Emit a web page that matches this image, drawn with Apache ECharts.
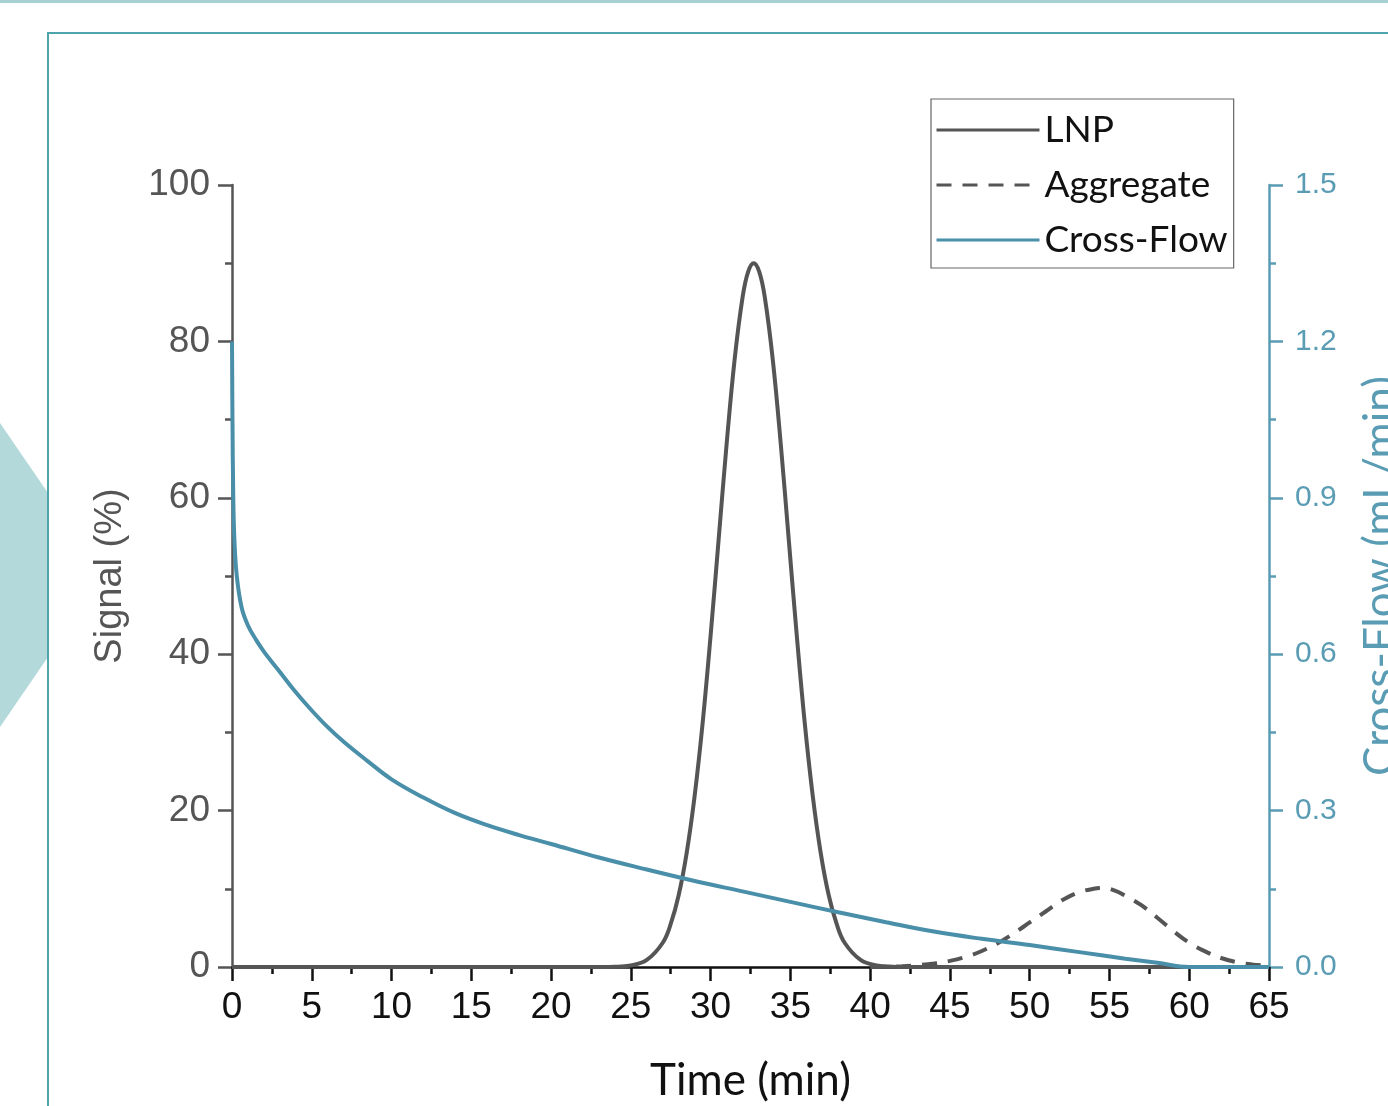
<!DOCTYPE html>
<html>
<head>
<meta charset="utf-8">
<title>LNP / Aggregate / Cross-Flow</title>
<script src="https://cdn.jsdelivr.net/npm/echarts@6.0.0/dist/echarts.min.js"></script>
<style>
  html, body { margin: 0; padding: 0; background: #fff; }
  #chart { width: 1388px; height: 1106px; }
</style>
</head>
<body>
<div id="chart"></div>
<script>
// values
const lnpTime = [0, 22, 24, 25, 26, 27, 27.5, 28, 28.5, 29, 29.5, 30, 30.5, 31, 31.5, 32, 32.35, 32.7,
  33.05, 33.4, 33.9, 34.4, 34.9, 35.4, 35.9, 36.4, 36.9, 37.4, 37.9, 38.4, 39.4, 40.4, 41.4, 43, 65];
const lnpSignal = [0, 0, 0.04, 0.2, 0.9, 3.1, 5.5, 9.2, 14.6, 21.9, 31.2, 42.4, 54.6, 66.8, 77.6, 85.6, 88.9, 90,
  88.9, 85.6, 77.6, 66.8, 54.6, 42.4, 31.2, 21.9, 14.6, 9.2, 5.5, 3.1, 0.9, 0.2, 0.04, 0, 0];

const aggTime = [40, 42, 43, 44, 45, 46, 47, 48, 49, 50, 51, 52, 53, 54, 54.6, 55.3, 56, 57, 58, 59, 60, 61, 62, 63, 64, 65];
const aggSignal = [0, 0.1, 0.23, 0.44, 0.78, 1.3, 2.05, 3.05, 4.3, 5.7, 7.1, 8.5, 9.5, 10, 10.1, 9.8, 9.1, 7.9, 6.3, 4.6, 3.1, 2.0, 1.15, 0.6, 0.3, 0.15];

const flowTime = [0, 0.03, 0.08, 0.15, 0.3, 0.6, 1, 1.5, 2, 2.5, 3, 4, 5, 6, 7, 8.5, 10, 12, 14, 16, 18, 20,
  23, 26, 29, 32, 35, 38, 41, 44, 47, 50, 53, 56, 58, 60, 65];
const flowRate = [1.2, 1.05, 0.9, 0.82, 0.75, 0.69, 0.655, 0.628, 0.605, 0.585, 0.566, 0.527, 0.492, 0.46, 0.432,
  0.395, 0.36, 0.325, 0.295, 0.272, 0.253, 0.236, 0.21, 0.187, 0.165, 0.145, 0.125, 0.105, 0.086, 0.068, 0.054,
  0.042, 0.029, 0.016, 0.008, 0, 0];

const seriesNames = ["LNP", "Aggregate", "Cross-Flow"];

function pairs(xs, ys) {
  return xs.map((x, i) => [x, ys[i]]);
}

const teal = "#4a8fa9";
const tealAxis = "#5a9cb3";
const gray = "#555555";

const chart = echarts.init(document.getElementById("chart"));

chart.setOption({
  animation: false,
  graphic: [
    { type: "rect", z: -10, shape: { x: 0, y: 0, width: 1388, height: 3 }, style: { fill: "#a7d0d3" } },
    { type: "polygon", z: -10, shape: { points: [[0, 423], [48, 493], [48, 657], [0, 727]] }, style: { fill: "#b4d9db" } },
    { type: "rect", z: -9, shape: { x: 48, y: 33, width: 1400, height: 1200 }, style: { fill: "none", stroke: "#4fa3aa", lineWidth: 2 } }
  ],
  legend: {
    orient: "vertical",
    left: 931,
    top: 99,
    padding: [11, 6, 8, 4],
    itemWidth: 103,
    itemHeight: 14,
    itemGap: 15,
    borderColor: "#666",
    borderWidth: 1.2,
    backgroundColor: "#fff",
    itemStyle: { opacity: 0 },
    lineStyle: { width: 3 },
    textStyle: { fontFamily: "Lato", fontSize: 37, color: "#111", lineHeight: 40 },
    data: seriesNames
  },
  grid: { left: 232, right: 119, top: 185, bottom: 139, containLabel: false, outerBoundsMode: "none" },
  xAxis: {
    type: "value",
    min: 0,
    max: 65,
    interval: 5,
    name: "Time (min)",
    nameLocation: "middle",
    nameGap: 92,
    nameTextStyle: { fontFamily: "Lato", fontSize: 44, color: "#111" },
    axisLine: { lineStyle: { color: "#111", width: 2.5 } },
    axisTick: { length: 14, lineStyle: { color: "#111", width: 2.5 } },
    minorTick: { show: true, splitNumber: 2, length: 7, lineStyle: { color: "#111", width: 2.5 } },
    splitLine: { show: false },
    axisLabel: { fontFamily: "Liberation Sans", fontSize: 37, color: "#111", margin: 22 }
  },
  yAxis: [
    {
      type: "value",
      min: 0,
      max: 100,
      interval: 20,
      name: "Signal (%)",
      nameLocation: "middle",
      nameRotate: 90,
      nameGap: 102,
      nameTextStyle: { fontFamily: "Liberation Sans", fontSize: 38, color: gray },
      axisLine: { show: true, lineStyle: { color: gray, width: 2.5 } },
      axisTick: { show: true, length: 14, lineStyle: { color: gray, width: 2.5 } },
      minorTick: { show: true, splitNumber: 2, length: 7, lineStyle: { color: gray, width: 2.5 } },
      splitLine: { show: false },
      axisLabel: { fontFamily: "Liberation Sans", fontSize: 37, color: gray, margin: 22 }
    },
    {
      type: "value",
      position: "right",
      min: 0,
      max: 1.5,
      interval: 0.3,
      name: "Cross-Flow (mL/min)",
      nameLocation: "middle",
      nameRotate: 90,
      nameGap: 90,
      nameTextStyle: { fontFamily: "Lato", fontSize: 44, color: tealAxis },
      axisLine: { show: true, lineStyle: { color: tealAxis, width: 2.5 } },
      axisTick: { show: true, length: 14, lineStyle: { color: tealAxis, width: 2.5 } },
      minorTick: { show: true, splitNumber: 2, length: 7, lineStyle: { color: tealAxis, width: 2.5 } },
      splitLine: { show: false },
      axisLabel: {
        fontFamily: "Liberation Sans",
        fontSize: 30,
        color: tealAxis,
        margin: 26,
        formatter: (v) => v.toFixed(1)
      }
    }
  ],
  series: [
    {
      name: "LNP",
      type: "line",
      yAxisIndex: 0,
      data: pairs(lnpTime, lnpSignal),
      smooth: 0.4,
      symbol: "none",
      lineStyle: { color: gray, width: 4 },
      itemStyle: { color: gray }
    },
    {
      name: "Aggregate",
      type: "line",
      yAxisIndex: 0,
      data: pairs(aggTime, aggSignal),
      smooth: 0.4,
      symbol: "none",
      lineStyle: { color: gray, width: 4, type: [15, 11] },
      itemStyle: { color: gray }
    },
    {
      name: "Cross-Flow",
      type: "line",
      yAxisIndex: 1,
      data: pairs(flowTime, flowRate),
      smooth: 0.4,
      symbol: "none",
      lineStyle: { color: teal, width: 4 },
      itemStyle: { color: teal }
    }
  ]
});
</script>
</body>
</html>
